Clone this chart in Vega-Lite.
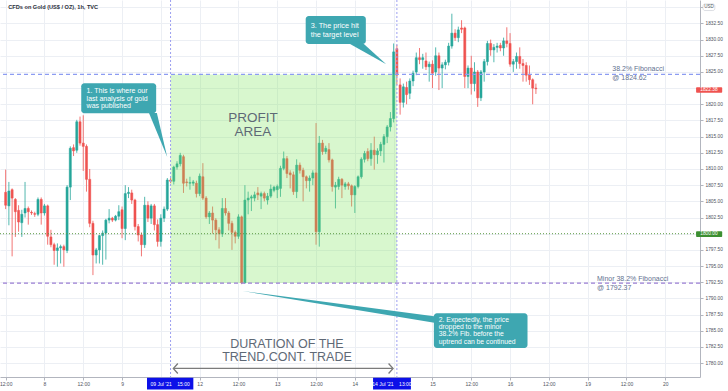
{
  "$schema": "https://vega.github.io/schema/vega-lite/v6.json",
  "width": 700,
  "height": 377,
  "autosize": {"type": "none"},
  "padding": {"left": 0, "top": 0, "right": 28, "bottom": 14},
  "background": "#ffffff",
  "config": {"view": {"stroke": null}, "font": "Liberation Sans", "axis": {"labelOverlap": false}},
  "data": {"values": [
{"t":0,"o":1806.4,"h":1809.9,"l":1803.8,"c":1804.4},
{"t":1,"o":1804.3,"h":1808.0,"l":1801.3,"c":1806.6},
{"t":2,"o":1806.8,"h":1807.0,"l":1796.5,"c":1805.5},
{"t":3,"o":1805.3,"h":1805.5,"l":1799.5,"c":1803.4},
{"t":4,"o":1803.6,"h":1804.4,"l":1800.3,"c":1801.8},
{"t":5,"o":1801.7,"h":1803.7,"l":1799.5,"c":1803.0},
{"t":6,"o":1803.2,"h":1808.0,"l":1802.5,"c":1803.9},
{"t":7,"o":1803.9,"h":1804.2,"l":1801.4,"c":1803.4},
{"t":8,"o":1803.3,"h":1803.6,"l":1802.9,"c":1803.2},
{"t":9,"o":1803.1,"h":1803.4,"l":1802.6,"c":1803.0},
{"t":10,"o":1803.0,"h":1805.6,"l":1802.7,"c":1805.3},
{"t":11,"o":1805.3,"h":1805.6,"l":1801.4,"c":1803.2},
{"t":12,"o":1803.2,"h":1804.6,"l":1802.8,"c":1804.3},
{"t":13,"o":1804.3,"h":1804.5,"l":1798.3,"c":1799.6},
{"t":14,"o":1799.5,"h":1800.6,"l":1797.9,"c":1798.3},
{"t":15,"o":1798.3,"h":1798.6,"l":1795.2,"c":1797.4},
{"t":16,"o":1797.4,"h":1798.5,"l":1794.9,"c":1797.8},
{"t":17,"o":1797.8,"h":1798.3,"l":1795.4,"c":1798.0},
{"t":18,"o":1798.0,"h":1798.3,"l":1794.9,"c":1797.5},
{"t":19,"o":1797.4,"h":1807.5,"l":1797.0,"c":1807.2},
{"t":20,"o":1807.2,"h":1813.5,"l":1805.2,"c":1813.2},
{"t":21,"o":1813.3,"h":1813.8,"l":1812.0,"c":1812.8},
{"t":22,"o":1812.9,"h":1817.6,"l":1812.5,"c":1817.3},
{"t":23,"o":1817.3,"h":1818.1,"l":1813.6,"c":1814.0},
{"t":24,"o":1814.0,"h":1818.3,"l":1809.7,"c":1813.5},
{"t":25,"o":1813.5,"h":1813.8,"l":1806.5,"c":1808.4},
{"t":26,"o":1808.4,"h":1810.0,"l":1801.0,"c":1801.6},
{"t":27,"o":1801.6,"h":1802.0,"l":1793.6,"c":1796.7},
{"t":28,"o":1796.7,"h":1797.8,"l":1795.4,"c":1797.5},
{"t":29,"o":1797.5,"h":1799.8,"l":1795.4,"c":1799.7},
{"t":30,"o":1799.7,"h":1800.5,"l":1795.2,"c":1800.1},
{"t":31,"o":1800.1,"h":1802.3,"l":1796.0,"c":1802.1},
{"t":32,"o":1802.1,"h":1803.8,"l":1801.6,"c":1802.4},
{"t":33,"o":1802.4,"h":1802.6,"l":1801.8,"c":1802.1},
{"t":34,"o":1802.1,"h":1802.9,"l":1801.9,"c":1802.7},
{"t":35,"o":1802.7,"h":1804.4,"l":1802.1,"c":1803.4},
{"t":36,"o":1803.7,"h":1804.2,"l":1799.3,"c":1800.8},
{"t":37,"o":1800.8,"h":1807.5,"l":1799.0,"c":1806.2},
{"t":38,"o":1806.2,"h":1807.2,"l":1805.5,"c":1806.4},
{"t":39,"o":1806.3,"h":1806.8,"l":1804.6,"c":1805.2},
{"t":40,"o":1805.2,"h":1805.4,"l":1800.5,"c":1801.1},
{"t":41,"o":1801.1,"h":1801.5,"l":1798.8,"c":1799.8},
{"t":42,"o":1799.8,"h":1800.2,"l":1796.5,"c":1798.3},
{"t":43,"o":1798.3,"h":1805.7,"l":1797.8,"c":1804.4},
{"t":44,"o":1804.4,"h":1805.0,"l":1801.8,"c":1802.4},
{"t":45,"o":1802.4,"h":1804.6,"l":1801.5,"c":1804.3},
{"t":46,"o":1804.3,"h":1804.6,"l":1800.5,"c":1801.4},
{"t":47,"o":1801.4,"h":1802.2,"l":1798.0,"c":1798.8},
{"t":48,"o":1798.8,"h":1803.0,"l":1798.0,"c":1802.4},
{"t":49,"o":1802.4,"h":1804.2,"l":1801.8,"c":1803.8},
{"t":50,"o":1803.8,"h":1808.6,"l":1803.5,"c":1808.3},
{"t":51,"o":1808.3,"h":1808.6,"l":1807.8,"c":1808.1},
{"t":52,"o":1808.1,"h":1810.5,"l":1807.6,"c":1810.3},
{"t":53,"o":1810.3,"h":1811.2,"l":1809.9,"c":1810.8},
{"t":54,"o":1810.8,"h":1812.5,"l":1810.4,"c":1812.1},
{"t":55,"o":1811.9,"h":1812.2,"l":1806.3,"c":1807.8},
{"t":56,"o":1808.0,"h":1808.5,"l":1807.3,"c":1807.9},
{"t":57,"o":1807.8,"h":1808.8,"l":1806.8,"c":1807.9},
{"t":58,"o":1807.8,"h":1808.3,"l":1807.4,"c":1808.0},
{"t":59,"o":1807.8,"h":1808.2,"l":1805.6,"c":1806.2},
{"t":60,"o":1806.2,"h":1809.3,"l":1805.8,"c":1808.9},
{"t":61,"o":1808.8,"h":1810.9,"l":1805.2,"c":1805.5},
{"t":62,"o":1805.5,"h":1805.8,"l":1802.3,"c":1802.6},
{"t":63,"o":1802.6,"h":1803.5,"l":1801.5,"c":1803.2},
{"t":64,"o":1803.2,"h":1804.2,"l":1800.0,"c":1802.1},
{"t":65,"o":1802.1,"h":1802.4,"l":1799.0,"c":1800.6},
{"t":66,"o":1800.6,"h":1801.0,"l":1797.7,"c":1800.0},
{"t":67,"o":1800.0,"h":1805.5,"l":1799.5,"c":1803.9},
{"t":68,"o":1803.9,"h":1805.5,"l":1802.8,"c":1803.2},
{"t":69,"o":1803.2,"h":1803.5,"l":1800.5,"c":1801.6},
{"t":70,"o":1801.6,"h":1802.0,"l":1797.5,"c":1800.2},
{"t":71,"o":1800.2,"h":1800.5,"l":1798.5,"c":1799.6},
{"t":72,"o":1799.6,"h":1803.0,"l":1799.2,"c":1802.6},
{"t":73,"o":1802.6,"h":1802.8,"l":1792.2,"c":1792.4},
{"t":74,"o":1792.4,"h":1807.5,"l":1792.3,"c":1805.2},
{"t":75,"o":1805.2,"h":1806.5,"l":1803.0,"c":1805.5},
{"t":76,"o":1805.5,"h":1806.0,"l":1803.5,"c":1805.7},
{"t":77,"o":1805.5,"h":1806.5,"l":1805.0,"c":1806.0},
{"t":78,"o":1806.3,"h":1807.2,"l":1805.2,"c":1806.0},
{"t":79,"o":1805.8,"h":1806.5,"l":1803.8,"c":1806.2},
{"t":80,"o":1806.2,"h":1806.5,"l":1805.0,"c":1805.5},
{"t":81,"o":1805.2,"h":1806.3,"l":1804.5,"c":1805.8},
{"t":82,"o":1805.8,"h":1807.6,"l":1805.5,"c":1806.9},
{"t":83,"o":1806.7,"h":1807.4,"l":1806.4,"c":1807.2},
{"t":84,"o":1806.8,"h":1807.6,"l":1805.5,"c":1807.3},
{"t":85,"o":1807.0,"h":1810.5,"l":1805.7,"c":1810.1},
{"t":86,"o":1810.1,"h":1812.7,"l":1809.8,"c":1811.6},
{"t":87,"o":1811.6,"h":1812.0,"l":1808.6,"c":1809.3},
{"t":88,"o":1809.4,"h":1809.8,"l":1807.0,"c":1809.1},
{"t":89,"o":1809.1,"h":1809.6,"l":1806.0,"c":1806.5},
{"t":90,"o":1806.5,"h":1811.5,"l":1805.5,"c":1810.6},
{"t":91,"o":1810.6,"h":1811.0,"l":1809.3,"c":1809.8},
{"t":92,"o":1809.8,"h":1810.2,"l":1805.0,"c":1808.8},
{"t":93,"o":1808.8,"h":1809.0,"l":1807.0,"c":1808.2},
{"t":94,"o":1808.2,"h":1809.0,"l":1806.5,"c":1808.6},
{"t":95,"o":1808.6,"h":1809.8,"l":1807.5,"c":1809.4},
{"t":96,"o":1809.4,"h":1817.1,"l":1798.3,"c":1800.3},
{"t":97,"o":1800.3,"h":1815.1,"l":1798.0,"c":1814.0},
{"t":98,"o":1814.0,"h":1814.5,"l":1812.2,"c":1812.7},
{"t":99,"o":1812.7,"h":1813.6,"l":1812.3,"c":1813.2},
{"t":100,"o":1813.0,"h":1814.0,"l":1811.0,"c":1811.4},
{"t":101,"o":1811.4,"h":1811.6,"l":1806.5,"c":1807.3},
{"t":102,"o":1807.2,"h":1808.0,"l":1803.9,"c":1807.5},
{"t":103,"o":1807.3,"h":1808.8,"l":1806.8,"c":1808.4},
{"t":104,"o":1808.4,"h":1808.6,"l":1805.5,"c":1807.5},
{"t":105,"o":1807.3,"h":1808.0,"l":1806.8,"c":1807.7},
{"t":106,"o":1807.7,"h":1808.0,"l":1806.8,"c":1807.4},
{"t":107,"o":1807.4,"h":1807.6,"l":1804.2,"c":1806.0},
{"t":108,"o":1806.0,"h":1807.5,"l":1803.2,"c":1807.3},
{"t":109,"o":1807.3,"h":1809.0,"l":1807.0,"c":1808.8},
{"t":110,"o":1808.8,"h":1811.8,"l":1808.5,"c":1811.5},
{"t":111,"o":1811.5,"h":1812.8,"l":1811.0,"c":1812.4},
{"t":112,"o":1812.7,"h":1813.2,"l":1811.2,"c":1811.6},
{"t":113,"o":1811.6,"h":1814.0,"l":1810.5,"c":1812.9},
{"t":114,"o":1812.9,"h":1815.0,"l":1809.9,"c":1812.2},
{"t":115,"o":1812.2,"h":1813.2,"l":1810.8,"c":1812.8},
{"t":116,"o":1812.8,"h":1814.2,"l":1812.0,"c":1813.8},
{"t":117,"o":1813.8,"h":1815.4,"l":1811.0,"c":1815.0},
{"t":118,"o":1815.0,"h":1816.8,"l":1814.0,"c":1816.5},
{"t":119,"o":1816.5,"h":1818.8,"l":1815.8,"c":1817.8},
{"t":120,"o":1817.8,"h":1829.4,"l":1817.2,"c":1828.1},
{"t":121,"o":1828.6,"h":1829.2,"l":1823.0,"c":1824.5},
{"t":122,"o":1823.0,"h":1824.0,"l":1818.4,"c":1820.3},
{"t":123,"o":1820.3,"h":1823.2,"l":1819.5,"c":1822.7},
{"t":124,"o":1822.6,"h":1823.5,"l":1820.0,"c":1821.5},
{"t":125,"o":1821.7,"h":1824.0,"l":1820.8,"c":1823.6},
{"t":126,"o":1823.6,"h":1825.2,"l":1822.8,"c":1824.8},
{"t":127,"o":1825.0,"h":1828.0,"l":1824.5,"c":1827.2},
{"t":128,"o":1827.2,"h":1828.7,"l":1826.2,"c":1826.9},
{"t":129,"o":1826.9,"h":1827.8,"l":1825.5,"c":1827.2},
{"t":130,"o":1826.7,"h":1828.0,"l":1825.3,"c":1825.8},
{"t":131,"o":1825.8,"h":1826.6,"l":1823.5,"c":1826.2},
{"t":132,"o":1826.2,"h":1826.8,"l":1822.5,"c":1824.8},
{"t":133,"o":1825.0,"h":1828.8,"l":1824.4,"c":1827.5},
{"t":134,"o":1827.5,"h":1828.0,"l":1822.2,"c":1825.6},
{"t":135,"o":1825.6,"h":1826.5,"l":1822.5,"c":1826.1},
{"t":136,"o":1826.1,"h":1826.9,"l":1825.4,"c":1826.5},
{"t":137,"o":1826.5,"h":1829.5,"l":1826.0,"c":1829.0},
{"t":138,"o":1829.0,"h":1834.0,"l":1828.6,"c":1831.0},
{"t":139,"o":1831.0,"h":1831.6,"l":1829.8,"c":1830.3},
{"t":140,"o":1830.3,"h":1832.0,"l":1829.6,"c":1831.5},
{"t":141,"o":1831.8,"h":1833.0,"l":1831.0,"c":1831.6},
{"t":142,"o":1831.8,"h":1832.0,"l":1822.5,"c":1824.3},
{"t":143,"o":1824.3,"h":1826.0,"l":1822.5,"c":1825.6},
{"t":144,"o":1825.6,"h":1827.5,"l":1821.5,"c":1823.2},
{"t":145,"o":1823.2,"h":1826.5,"l":1822.0,"c":1825.0},
{"t":146,"o":1825.0,"h":1825.3,"l":1819.6,"c":1821.0},
{"t":147,"o":1821.0,"h":1825.3,"l":1820.5,"c":1825.0},
{"t":148,"o":1825.0,"h":1827.0,"l":1823.5,"c":1826.6},
{"t":149,"o":1826.6,"h":1829.8,"l":1826.0,"c":1829.4},
{"t":150,"o":1829.4,"h":1830.0,"l":1827.5,"c":1828.4},
{"t":151,"o":1828.4,"h":1829.3,"l":1826.5,"c":1828.8},
{"t":152,"o":1828.8,"h":1829.5,"l":1828.0,"c":1829.0},
{"t":153,"o":1829.1,"h":1829.5,"l":1828.2,"c":1828.7},
{"t":154,"o":1828.7,"h":1830.3,"l":1827.5,"c":1829.8},
{"t":155,"o":1829.8,"h":1831.9,"l":1828.8,"c":1829.4},
{"t":156,"o":1829.4,"h":1831.0,"l":1825.8,"c":1826.2},
{"t":157,"o":1826.2,"h":1827.0,"l":1825.0,"c":1826.6},
{"t":158,"o":1826.6,"h":1828.0,"l":1825.5,"c":1827.4},
{"t":159,"o":1827.4,"h":1828.8,"l":1825.5,"c":1826.3},
{"t":160,"o":1826.3,"h":1827.0,"l":1823.5,"c":1826.0},
{"t":161,"o":1826.0,"h":1826.5,"l":1823.5,"c":1824.5},
{"t":162,"o":1824.6,"h":1826.0,"l":1823.0,"c":1823.8},
{"t":163,"o":1823.8,"h":1824.0,"l":1820.0,"c":1822.5},
{"t":164,"o":1822.5,"h":1823.2,"l":1821.6,"c":1822.4}
  ]},
  "layer": [
    {
      "mark": {"type": "rule", "strokeWidth": 0.8},
      "encoding": {
        "x": {"field": "t", "type": "quantitative", "scale": {"domain": [-0.2, 213.2], "nice": false, "zero": false},
          "axis": {"orient": "bottom", "title": null, "tickCount": 40, "values": [0,12,24,36,48,60,72,84,96,108,120,132,144,156,168,180,192,204],
            "labelExpr": "datum.value == 48 || datum.value == 120 ? '' : datum.value % 24 == 0 ? '12:00' : datum.value == 12 ? '8' : datum.value == 36 ? '9' : datum.value == 60 ? '12' : datum.value == 84 ? '13' : datum.value == 108 ? '14' : datum.value == 132 ? '15' : datum.value == 156 ? '16' : datum.value == 180 ? '19' : '20'",
            "grid": true, "gridColor": "#eceff4", "gridWidth": 1, "domainColor": "#b2b5be", "tickColor": "#b2b5be", "tickSize": 3,
            "labelFontSize": 5, "labelColor": "#50535e", "labelPadding": 1, "labelOverlap": false, "labelFlush": false, "labelBound": false}},
        "y": {"field": "l", "type": "quantitative", "scale": {"domain": [1777.85, 1836.12], "nice": false, "zero": false},
          "axis": {"orient": "right", "title": null, "tickCount": 40, "values": [1780,1782.5,1785,1787.5,1790,1792.5,1795,1797.5,1800,1802.5,1805,1807.5,1810,1812.5,1815,1817.5,1820,1822.5,1825,1827.5,1830,1832.5,1835],
            "labelExpr": "datum.value > 1834 || datum.value == 1800 || datum.value == 1822.5 ? '' : format(datum.value, '.2f')",
            "grid": true, "gridColor": "#eceff4", "gridWidth": 1, "domainColor": "#b2b5be", "tickColor": "#b2b5be", "tickSize": 3,
            "labelFontSize": 4.8, "labelColor": "#50535e", "labelPadding": 2, "labelOverlap": false, "labelFlush": false, "labelBound": false}},
        "y2": {"field": "h"},
        "color": {"condition": {"test": "datum.c >= datum.o", "value": "#26a69a"}, "value": "#ef5350"}
      }
    },
    {
      "mark": {"type": "bar", "size": 2.1, "strokeWidth": 0.5},
      "encoding": {
        "x": {"field": "t", "type": "quantitative", "scale": {"domain": [-0.2, 213.2], "nice": false, "zero": false},
          "axis": {"orient": "bottom", "title": null, "tickCount": 40, "values": [0,12,24,36,48,60,72,84,96,108,120,132,144,156,168,180,192,204],
            "labelExpr": "datum.value == 48 || datum.value == 120 ? '' : datum.value % 24 == 0 ? '12:00' : datum.value == 12 ? '8' : datum.value == 36 ? '9' : datum.value == 60 ? '12' : datum.value == 84 ? '13' : datum.value == 108 ? '14' : datum.value == 132 ? '15' : datum.value == 156 ? '16' : datum.value == 180 ? '19' : '20'",
            "grid": true, "gridColor": "#eceff4", "gridWidth": 1, "domainColor": "#b2b5be", "tickColor": "#b2b5be", "tickSize": 3,
            "labelFontSize": 5, "labelColor": "#50535e", "labelPadding": 1, "labelOverlap": false, "labelFlush": false, "labelBound": false}},
        "y": {"field": "o", "type": "quantitative", "scale": {"domain": [1777.85, 1836.12], "nice": false, "zero": false},
          "axis": {"orient": "right", "title": null, "tickCount": 40, "values": [1780,1782.5,1785,1787.5,1790,1792.5,1795,1797.5,1800,1802.5,1805,1807.5,1810,1812.5,1815,1817.5,1820,1822.5,1825,1827.5,1830,1832.5,1835],
            "labelExpr": "datum.value > 1834 || datum.value == 1800 || datum.value == 1822.5 ? '' : format(datum.value, '.2f')",
            "grid": true, "gridColor": "#eceff4", "gridWidth": 1, "domainColor": "#b2b5be", "tickColor": "#b2b5be", "tickSize": 3,
            "labelFontSize": 4.8, "labelColor": "#50535e", "labelPadding": 2, "labelOverlap": false, "labelFlush": false, "labelBound": false}},
        "y2": {"field": "c"},
        "color": {"condition": {"test": "datum.c >= datum.o", "value": "#26a69a"}, "value": "#ef5350"},
        "stroke": {"condition": {"test": "datum.c >= datum.o", "value": "#26a69a"}, "value": "#ef5350"}
      }
    },
    {
      "data": {"values": [{}]},
      "mark": {"type": "rect", "fill": "#7ee35c", "opacity": 0.3},
      "encoding": {
        "x": {"datum": 51, "type": "quantitative"},
        "x2": {"datum": 121},
        "y": {"datum": 1824.62, "type": "quantitative"},
        "y2": {"datum": 1792.37}
      }
    },
    {
      "data": {"values": [{}]},
      "mark": {"type": "rule", "stroke": "#5d9c44", "strokeWidth": 1, "strokeDash": [1, 2]},
      "encoding": {"y": {"datum": 1800, "type": "quantitative"}}
    },
    {
      "data": {"values": [{}]},
      "mark": {"type": "rule", "stroke": "#8c9cf2", "strokeWidth": 1.2, "strokeDash": [4, 3]},
      "encoding": {"y": {"datum": 1824.62, "type": "quantitative"}}
    },
    {
      "data": {"values": [{}]},
      "mark": {"type": "rule", "stroke": "#9b7fd4", "strokeWidth": 1.2, "strokeDash": [4, 3]},
      "encoding": {"y": {"datum": 1792.37, "type": "quantitative"}}
    },
    {
      "data": {"values": [{}]},
      "mark": {"type": "rule", "stroke": "#9c9ff0", "strokeWidth": 1, "strokeDash": [2, 2]},
      "encoding": {"x": {"datum": 51, "type": "quantitative"}}
    },
    {
      "data": {"values": [{}]},
      "mark": {"type": "rule", "stroke": "#9c9ff0", "strokeWidth": 1, "strokeDash": [2, 2]},
      "encoding": {"x": {"datum": 121, "type": "quantitative"}}
    },
    {
      "data": {"values": [{}]},
      "mark": {"type": "text", "text": ["PROFIT", "AREA"], "align": "center", "baseline": "top", "fontSize": 13.5, "lineHeight": 13.5, "fill": "#5e6976"},
      "encoding": {
        "x": {"datum": 76.49, "type": "quantitative"},
        "y": {"datum": 1818.96, "type": "quantitative"}
      }
    },
    {
      "data": {"values": [{}]},
      "mark": {"type": "text", "text": ["DURATION OF THE", "TREND.CONT. TRADE"], "align": "center", "baseline": "top", "fontSize": 12.5, "lineHeight": 12.7, "fill": "#5e6976"},
      "encoding": {
        "x": {"datum": 87.01, "type": "quantitative"},
        "y": {"datum": 1783.86, "type": "quantitative"}
      }
    },
    {
      "data": {"values": [{}]},
      "mark": {"type": "rule", "stroke": "#7b7b7b", "strokeWidth": 1.3},
      "encoding": {
        "x": {"datum": 51.95, "type": "quantitative"},
        "x2": {"datum": 119.63},
        "y": {"datum": 1779.17, "type": "quantitative"}
      }
    },
    {
      "data": {"values": [{}]},
      "mark": {"type": "point", "shape": "M0.9,-1L0,0L0.9,1", "size": 100, "filled": false, "stroke": "#7b7b7b", "strokeWidth": 1.3, "opacity": 1},
      "encoding": {
        "x": {"datum": 51.86, "type": "quantitative"},
        "y": {"datum": 1779.17, "type": "quantitative"}
      }
    },
    {
      "data": {"values": [{}]},
      "mark": {"type": "point", "shape": "M-0.9,-1L0,0L-0.9,1", "size": 100, "filled": false, "stroke": "#7b7b7b", "strokeWidth": 1.3, "opacity": 1},
      "encoding": {
        "x": {"datum": 119.82, "type": "quantitative"},
        "y": {"datum": 1779.17, "type": "quantitative"}
      }
    },
    {
      "data": {"values": [{"p": 1818.66, "a": 44.33, "b": 46.77}, {"p": 1811.85, "a": 49.97, "b": 49.97}]},
      "mark": {"type": "area", "orient": "horizontal", "fill": "#3ea7b1", "opacity": 1},
      "encoding": {
        "y": {"field": "p", "type": "quantitative"},
        "x": {"field": "a", "type": "quantitative"},
        "x2": {"field": "b"}
      }
    },
    {
      "data": {"values": [{}]},
      "mark": {"type": "rect", "fill": "#3ea7b1", "cornerRadius": 3},
      "encoding": {
        "x": {"datum": 23.38, "type": "quantitative"},
        "x2": {"datum": 46.55},
        "y": {"datum": 1823.25, "type": "quantitative"},
        "y2": {"datum": 1818.61}
      }
    },
    {
      "data": {"values": [{}]},
      "mark": {"type": "text", "text": ["1. This is where our", "last analysis of gold", "was published"], "align": "left", "baseline": "top", "fontSize": 7, "lineHeight": 7.4, "fill": "#ffffff"},
      "encoding": {
        "x": {"datum": 25.03, "type": "quantitative"},
        "y": {"datum": 1822.6, "type": "quantitative"}
      }
    },
    {
      "data": {"values": [{"t": 73.29, "p1": 1791.14, "p2": 1791.14}, {"t": 133.05, "p1": 1787.2, "p2": 1786.2}]},
      "mark": {"type": "area", "orient": "vertical", "fill": "#3ea7b1", "opacity": 1},
      "encoding": {
        "x": {"field": "t", "type": "quantitative"},
        "y": {"field": "p1", "type": "quantitative"},
        "y2": {"field": "p2"}
      }
    },
    {
      "data": {"values": [{}]},
      "mark": {"type": "rect", "fill": "#3ea7b1", "cornerRadius": 3},
      "encoding": {
        "x": {"datum": 132.44, "type": "quantitative"},
        "x2": {"datum": 161.4},
        "y": {"datum": 1787.7, "type": "quantitative"},
        "y2": {"datum": 1782.33}
      }
    },
    {
      "data": {"values": [{}]},
      "mark": {"type": "text", "text": ["2. Expectedly, the price", "dropped to the minor", "38.2% Fib. before the", "uptrend can be continued"], "align": "left", "baseline": "top", "fontSize": 6.8, "lineHeight": 7.1, "fill": "#ffffff"},
      "encoding": {
        "x": {"datum": 133.96, "type": "quantitative"},
        "y": {"datum": 1787.09, "type": "quantitative"}
      }
    },
    {
      "data": {"values": [{"p": 1829.32, "a": 106.52, "b": 110.79}, {"p": 1826.18, "a": 117.71, "b": 117.71}]},
      "mark": {"type": "area", "orient": "horizontal", "fill": "#3ea7b1", "opacity": 1},
      "encoding": {
        "y": {"field": "p", "type": "quantitative"},
        "x": {"field": "a", "type": "quantitative"},
        "x2": {"field": "b"}
      }
    },
    {
      "data": {"values": [{}]},
      "mark": {"type": "rect", "fill": "#3ea7b1", "cornerRadius": 3},
      "encoding": {
        "x": {"datum": 92.8, "type": "quantitative"},
        "x2": {"datum": 111.4},
        "y": {"datum": 1833.65, "type": "quantitative"},
        "y2": {"datum": 1829.32}
      }
    },
    {
      "data": {"values": [{}]},
      "mark": {"type": "text", "text": ["3. The price hit", "the target level"], "align": "left", "baseline": "top", "fontSize": 7.3, "lineHeight": 8.5, "fill": "#ffffff"},
      "encoding": {
        "x": {"datum": 94.33, "type": "quantitative"},
        "y": {"datum": 1832.66, "type": "quantitative"}
      }
    },
    {
      "data": {"values": [{}]},
      "mark": {"type": "text", "text": ["38.2% Fibonacci", "@ 1824.62"], "align": "left", "baseline": "top", "fontSize": 7, "lineHeight": 8.5, "fill": "#62708f"},
      "encoding": {
        "x": {"datum": 187.62, "type": "quantitative"},
        "y": {"datum": 1826.07, "type": "quantitative"}
      }
    },
    {
      "data": {"values": [{}]},
      "mark": {"type": "text", "text": ["Minor 38.2% Fibonacci", "@ 1792.37"], "align": "left", "baseline": "top", "fontSize": 7, "lineHeight": 8.5, "fill": "#62708f"},
      "encoding": {
        "x": {"datum": 182.9, "type": "quantitative"},
        "y": {"datum": 1793.6, "type": "quantitative"}
      }
    },
    {
      "data": {"values": [{}]},
      "mark": {"type": "rect", "fill": "#ef5350", "cornerRadius": 1},
      "encoding": {
        "x": {"datum": 213.54, "type": "quantitative"},
        "x2": {"datum": 221.61},
        "y": {"datum": 1822.63, "type": "quantitative"},
        "y2": {"datum": 1821.79}
      }
    },
    {
      "data": {"values": [{}]},
      "mark": {"type": "text", "text": "1822.38", "align": "center", "baseline": "middle", "fontSize": 4.8, "fill": "#ffffff"},
      "encoding": {
        "x": {"datum": 217.5, "type": "quantitative"},
        "y": {"datum": 1822.21, "type": "quantitative"}
      }
    },
    {
      "data": {"values": [{}]},
      "mark": {"type": "rect", "fill": "#3c8f31", "cornerRadius": 1},
      "encoding": {
        "x": {"datum": 213.54, "type": "quantitative"},
        "x2": {"datum": 221.61},
        "y": {"datum": 1800.36, "type": "quantitative"},
        "y2": {"datum": 1799.5}
      }
    },
    {
      "data": {"values": [{}]},
      "mark": {"type": "text", "text": "1800.00", "align": "center", "baseline": "middle", "fontSize": 4.8, "fill": "#ffffff"},
      "encoding": {
        "x": {"datum": 217.5, "type": "quantitative"},
        "y": {"datum": 1799.93, "type": "quantitative"}
      }
    },
    {
      "data": {"values": [{}]},
      "mark": {"type": "rect", "fill": "#ffffff", "stroke": "#c5c8d0", "strokeWidth": 0.6, "cornerRadius": 2},
      "encoding": {
        "x": {"datum": 215.67, "type": "quantitative"},
        "x2": {"datum": 219.33},
        "y": {"datum": 1835.5, "type": "quantitative"},
        "y2": {"datum": 1834.49}
      }
    },
    {
      "data": {"values": [{}]},
      "mark": {"type": "text", "text": "USD", "align": "center", "baseline": "middle", "fontSize": 4.5, "fill": "#50535e"},
      "encoding": {
        "x": {"datum": 217.5, "type": "quantitative"},
        "y": {"datum": 1835.0, "type": "quantitative"}
      }
    },
    {
      "data": {"values": [{}]},
      "mark": {"type": "rect", "fill": "#0c10e8"},
      "encoding": {
        "x": {"datum": 43.72, "type": "quantitative"},
        "x2": {"datum": 58.05},
        "y": {"datum": 1777.74, "type": "quantitative"},
        "y2": {"datum": 1775.92}
      }
    },
    {
      "data": {"values": [{}]},
      "mark": {"type": "text", "text": "09 Jul '21\u00a0\u00a0\u00a0\u00a015:00", "align": "center", "baseline": "middle", "fontSize": 5, "fill": "#ffffff"},
      "encoding": {
        "x": {"datum": 50.89, "type": "quantitative"},
        "y": {"datum": 1776.83, "type": "quantitative"}
      }
    },
    {
      "data": {"values": [{}]},
      "mark": {"type": "rect", "fill": "#0c10e8"},
      "encoding": {
        "x": {"datum": 113.63, "type": "quantitative"},
        "x2": {"datum": 125.34},
        "y": {"datum": 1777.74, "type": "quantitative"},
        "y2": {"datum": 1775.92}
      }
    },
    {
      "data": {"values": [{}]},
      "mark": {"type": "text", "text": "14 Jul '21\u00a0\u00a0\u00a0\u00a013:00", "align": "center", "baseline": "middle", "fontSize": 5, "fill": "#ffffff"},
      "encoding": {
        "x": {"datum": 119.48, "type": "quantitative"},
        "y": {"datum": 1776.83, "type": "quantitative"}
      }
    },
    {
      "data": {"values": [{}]},
      "mark": {"type": "text", "text": "CFDs on Gold (US$ / OZ), 1h, TVC", "align": "left", "baseline": "middle", "fontSize": 5.6, "fontWeight": "bold", "fill": "#2a2e39"},
      "encoding": {
        "x": {"datum": 0.82, "type": "quantitative"},
        "y": {"datum": 1834.99, "type": "quantitative"}
      }
    }
  ]
}
